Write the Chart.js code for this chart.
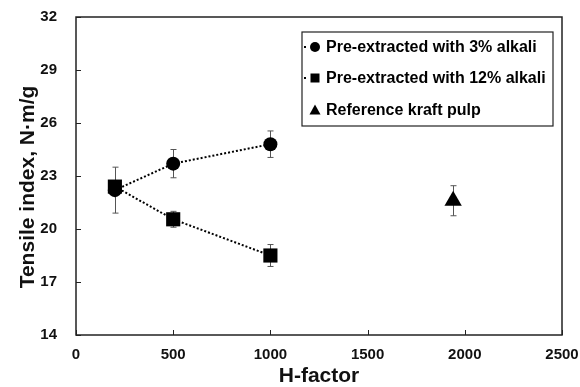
<!DOCTYPE html>
<html lang="en">
<head>
    <meta charset="UTF-8">
    <title>Tensile index vs H-factor</title>
    <script src="https://cdn.jsdelivr.net/npm/chart.js"></script>
    <style>
        body {
            margin: 0;
            background: #fff;
        }

        .chart-container {
            width: 580px;
            height: 387px;
        }
    </style>
</head>
<body>
    <div class="chart-container">
        <canvas id="tensileChart"></canvas>
    </div>

    <script>
        // values
        const hFactor = [200, 500, 1000];
        const alkali3 = [22.2, 23.7, 24.8];
        const alkali3Err = [1.3, 0.8, 0.75];
        const alkali12 = [22.4, 20.55, 18.5];
        const alkali12Err = [0.3, 0.45, 0.62];
        const kraftH = [1940];
        const kraft = [21.6];
        const kraftErr = [0.85];

        const xTicks = [0, 500, 1000, 1500, 2000, 2500];
        const yTicks = [14, 17, 20, 23, 26, 29, 32];

        const legendLabels = [
            'Pre-extracted with 3% alkali',
            'Pre-extracted with 12% alkali',
            'Reference kraft pulp'
        ];
        const yTitle = 'Tensile index, N·m/g';

        const FONT = 'Arial, "Liberation Sans", sans-serif';

        function toPoints(xs, ys) {
            return xs.map((x, i) => ({ x: x, y: ys[i] }));
        }

        // error bars, box frame, inward ticks, y title and legend box
        const decorations = {
            id: 'decorations',
            beforeDatasetsDraw(chart) {
                const ctx = chart.ctx;
                const xs = chart.scales.x;
                const ys = chart.scales.y;
                ctx.save();
                ctx.strokeStyle = '#555';
                ctx.lineWidth = 1;
                const sets = [
                    [hFactor, alkali3, alkali3Err],
                    [hFactor, alkali12, alkali12Err],
                    [kraftH, kraft, kraftErr]
                ];
                sets.forEach(([xv, yv, ev]) => {
                    xv.forEach((x, i) => {
                        const px = Math.round(xs.getPixelForValue(x)) + 0.5;
                        const top = ys.getPixelForValue(yv[i] + ev[i]);
                        const bot = ys.getPixelForValue(yv[i] - ev[i]);
                        ctx.beginPath();
                        ctx.moveTo(px, top);
                        ctx.lineTo(px, bot);
                        ctx.moveTo(px - 3, top);
                        ctx.lineTo(px + 3, top);
                        ctx.moveTo(px - 3, bot);
                        ctx.lineTo(px + 3, bot);
                        ctx.stroke();
                    });
                });
                ctx.restore();
            },
            afterDraw(chart) {
                const ctx = chart.ctx;
                const a = chart.chartArea;
                const xs = chart.scales.x;
                const ys = chart.scales.y;
                ctx.save();
                ctx.strokeStyle = '#222';
                ctx.lineWidth = 1.5;
                ctx.strokeRect(a.left, a.top, a.right - a.left, a.bottom - a.top);

                ctx.lineWidth = 1;
                ctx.beginPath();
                xTicks.forEach(t => {
                    const px = Math.round(xs.getPixelForValue(t)) + 0.5;
                    ctx.moveTo(px, a.bottom);
                    ctx.lineTo(px, a.bottom - 5);
                });
                yTicks.forEach(t => {
                    const py = Math.round(ys.getPixelForValue(t)) + 0.5;
                    ctx.moveTo(a.left, py);
                    ctx.lineTo(a.left + 5, py);
                });
                ctx.stroke();

                // y axis title, centred a little below the plot middle as in the figure
                ctx.save();
                ctx.translate(28, 187);
                ctx.rotate(-Math.PI / 2);
                ctx.fillStyle = '#111';
                ctx.font = 'bold 21px ' + FONT;
                ctx.textAlign = 'center';
                ctx.textBaseline = 'middle';
                ctx.fillText(yTitle, 0, 0);
                ctx.restore();

                // legend
                const lx = 302, ly = 32, lw = 251, lh = 94;
                ctx.fillStyle = '#fff';
                ctx.fillRect(lx, ly, lw, lh);
                ctx.strokeStyle = '#222';
                ctx.lineWidth = 1.2;
                ctx.strokeRect(lx, ly, lw, lh);

                const rows = [47, 78, 110];
                ctx.font = 'bold 16px ' + FONT;
                ctx.textBaseline = 'middle';
                rows.forEach((ry, i) => {
                    const mx = 315;
                    ctx.fillStyle = '#000';
                    if (i < 2) {
                        ctx.fillRect(304, ry - 1, 2, 2);
                    }
                    ctx.beginPath();
                    if (i === 0) {
                        ctx.arc(mx, ry, 5, 0, Math.PI * 2);
                    } else if (i === 1) {
                        ctx.rect(mx - 4.5, ry - 4.5, 9, 9);
                    } else {
                        ctx.moveTo(mx, ry - 5.5);
                        ctx.lineTo(mx + 5.5, ry + 4.5);
                        ctx.lineTo(mx - 5.5, ry + 4.5);
                        ctx.closePath();
                    }
                    ctx.fill();
                    ctx.fillText(legendLabels[i], 326, ry + 0.5);
                });
                ctx.restore();
            }
        };

        const ctx = document.getElementById('tensileChart').getContext('2d');
        new Chart(ctx, {
            type: 'scatter',
            data: {
                datasets: [
                    {
                        label: legendLabels[0],
                        data: toPoints(hFactor, alkali3),
                        showLine: true,
                        borderColor: '#000',
                        borderWidth: 2,
                        borderDash: [2, 2],
                        backgroundColor: '#000',
                        pointStyle: 'circle',
                        pointRadius: 7,
                        pointBorderWidth: 0,
                        order: 2
                    },
                    {
                        label: legendLabels[1],
                        data: toPoints(hFactor, alkali12),
                        showLine: true,
                        borderColor: '#000',
                        borderWidth: 2,
                        borderDash: [2, 2],
                        backgroundColor: '#000',
                        pointStyle: 'rect',
                        pointRadius: 10,
                        pointBorderWidth: 0,
                        order: 1
                    },
                    {
                        label: legendLabels[2],
                        data: toPoints(kraftH, kraft),
                        showLine: false,
                        borderColor: '#000',
                        backgroundColor: '#000',
                        pointStyle: 'triangle',
                        pointRadius: 10,
                        pointBorderWidth: 0,
                        order: 3
                    }
                ]
            },
            options: {
                responsive: true,
                maintainAspectRatio: false,
                animation: false,
                layout: {
                    padding: { top: 17, right: 18, left: 0, bottom: 0 }
                },
                plugins: {
                    legend: { display: false },
                    tooltip: { enabled: false }
                },
                scales: {
                    x: {
                        type: 'linear',
                        min: 0,
                        max: 2500,
                        afterBuildTicks: axis => {
                            axis.ticks = xTicks.map(v => ({ value: v }));
                        },
                        afterFit: axis => {
                            axis.height = 52;
                            axis.paddingLeft = 0;
                            axis.paddingRight = 0;
                        },
                        grid: { display: false, drawTicks: false },
                        border: { display: false },
                        ticks: {
                            padding: 11,
                            color: '#111',
                            font: { family: FONT, size: 15, weight: 'bold' },
                            callback: v => String(v)
                        },
                        title: {
                            display: true,
                            text: 'H-factor',
                            color: '#111',
                            padding: { top: 0, bottom: 0 },
                            font: { family: FONT, size: 21, weight: 'bold', lineHeight: 1 }
                        }
                    },
                    y: {
                        type: 'linear',
                        min: 14,
                        max: 32,
                        afterBuildTicks: axis => {
                            axis.ticks = yTicks.map(v => ({ value: v }));
                        },
                        afterFit: axis => {
                            axis.width = 76;
                            axis.paddingTop = 0;
                            axis.paddingBottom = 0;
                        },
                        grid: { display: false, drawTicks: false },
                        border: { display: false },
                        ticks: {
                            padding: 19,
                            color: '#111',
                            font: { family: FONT, size: 15, weight: 'bold' },
                            callback: v => String(v)
                        }
                    }
                }
            },
            plugins: [decorations]
        });
    </script>
</body>
</html>
